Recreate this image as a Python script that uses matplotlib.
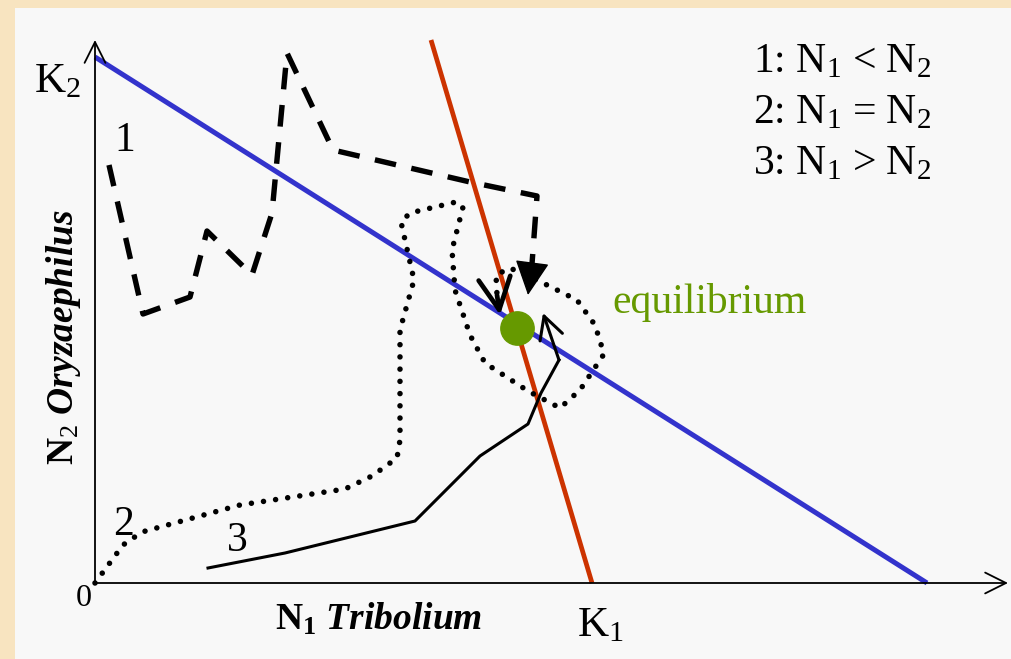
import matplotlib.pyplot as plt
from matplotlib.patches import Rectangle

# isoclines (N1, N2) end points
k1_line_n1 = [336, 497]
k1_line_n2 = [543, 0]
k2_line_n1 = [0, 832]
k2_line_n2 = [526, 0]
equilibrium = (422, 255)

# trajectory 1: N1 < N2 (dashed)
traj1_n1 = [14, 48, 95, 112, 157, 177, 192, 238, 375, 442, 437]
traj1_n2 = [418, 269, 286, 352, 308, 370, 530, 433, 401, 387, 319]
traj1_tip = (433, 288)

# trajectory 2: N1 = N2 (dotted)
traj2_n1 = [0, 28, 47, 145, 250, 277, 302, 305, 305, 310, 319, 306, 315, 361, 368,
            357, 360, 375, 390, 433, 465, 485, 509, 500, 482, 450, 415, 401, 402]
traj2_n2 = [0, 38, 51, 78, 94, 107, 125, 143, 253, 271, 303, 361, 370, 381, 376,
            333, 293, 248, 220, 192, 175, 193, 229, 258, 283, 299, 315, 308, 288]
traj2_tip = (405, 268)

# trajectory 3: N1 > N2 (solid)
traj3_n1 = [113, 190, 320, 385, 433, 446, 464]
traj3_n2 = [15, 30, 62, 127, 159, 190, 223]
traj3_tip = (448, 270)

legend_lines = [r'1: N$_1$ < N$_2$', r'2: N$_1$ = N$_2$', r'3: N$_1$ > N$_2$']

plt.rcParams['font.family'] = 'Liberation Serif'
plt.rcParams['mathtext.fontset'] = 'custom'
plt.rcParams['mathtext.rm'] = 'Liberation Serif'
plt.rcParams['mathtext.it'] = 'Liberation Serif:italic'
plt.rcParams['mathtext.bf'] = 'Liberation Serif:bold'
plt.rcParams['mathtext.bfit'] = 'Liberation Serif:italic:bold'

fig = plt.figure(figsize=(10.12, 6.59), dpi=100, facecolor='#f8e4c0')
fig.add_artist(Rectangle((15 / 1012, 0), 1, 651 / 659, transform=fig.transFigure,
                         facecolor='#f8f8f8', edgecolor='none', zorder=0))

ax = fig.add_axes([0, 0, 1, 1])
ax.set_xlim(-95, 917)
ax.set_ylim(-76, 583)
ax.axis('off')

# axes with open arrow heads
axis_arrow = dict(arrowstyle='->,head_length=1.5,head_width=0.75', lw=1.3,
                  color='black', shrinkA=0, shrinkB=0, mutation_scale=10)
ax.annotate('', xy=(0, 543), xytext=(0, 0), arrowprops=axis_arrow)
ax.annotate('', xy=(913, 0), xytext=(0, 0), arrowprops=axis_arrow)

# isoclines
ax.plot(k2_line_n1, k2_line_n2, color='#3333cc', lw=3.6, solid_capstyle='butt')
ax.plot(k1_line_n1, k1_line_n2, color='#cc3300', lw=3.4, solid_capstyle='butt')

# trajectory 1
ax.plot(traj1_n1, traj1_n2, color='black', lw=3.9, linestyle=(0, (4.0, 2.9)))
ax.annotate('', xy=traj1_tip, xytext=(traj1_n1[-1], traj1_n2[-1]),
            arrowprops=dict(arrowstyle='-|>,head_length=2.2,head_width=1.1',
                            color='black', lw=1, shrinkA=0, shrinkB=0,
                            mutation_scale=10))

# trajectory 2
ax.plot(traj2_n1, traj2_n2, color='black', lw=4.0, linestyle=(0, (0.001, 2.2)),
        dash_capstyle='round')
ax.annotate('', xy=traj2_tip, xytext=(traj2_n1[-1], traj2_n2[-1]),
            arrowprops=dict(arrowstyle='->,head_length=2.3,head_width=1.15',
                            color='black', lw=3.4, shrinkA=0, shrinkB=0,
                            mutation_scale=10))

# trajectory 3
ax.plot(traj3_n1, traj3_n2, color='black', lw=2.2)
ax.annotate('', xy=traj3_tip, xytext=(traj3_n1[-1], traj3_n2[-1]),
            arrowprops=dict(arrowstyle='->,head_length=1.6,head_width=0.85',
                            color='black', lw=2.2, shrinkA=0, shrinkB=0,
                            mutation_scale=10))

# equilibrium point
ax.plot(*equilibrium, 'o', color='#669900', markersize=24, zorder=5)
ax.text(517, 270, 'equilibrium', color='#669900', fontsize=30, va='baseline')

# labels
ax.text(-37.5, 500.5, r'K$_2$', fontsize=31, ha='center', va='center')
ax.text(505, -43.5, r'K$_1$', fontsize=31, ha='center', va='center')
ax.text(-11, -15, '0', fontsize=23, ha='center', va='center')
ax.text(30, 442, '1', fontsize=30, ha='center', va='center')
ax.text(29, 58, '2', fontsize=30, ha='center', va='center')
ax.text(142, 42, '3', fontsize=30, ha='center', va='center')

for i, line in enumerate(legend_lines):
    ax.text(658, 511 - 51 * i, line, fontsize=30, va='baseline')

ax.text(180, -47, r'$\mathbf{N_1}$ $\mathbfit{Tribolium}$', fontsize=27, va='baseline')
ax.text(-31.5, 245.5, r'$\mathbf{N}_2$ $\mathbfit{Oryzaephilus}$', fontsize=27,
        rotation=90, ha='center', va='center')

fig.savefig('out.png', dpi=100, facecolor=fig.get_facecolor())
